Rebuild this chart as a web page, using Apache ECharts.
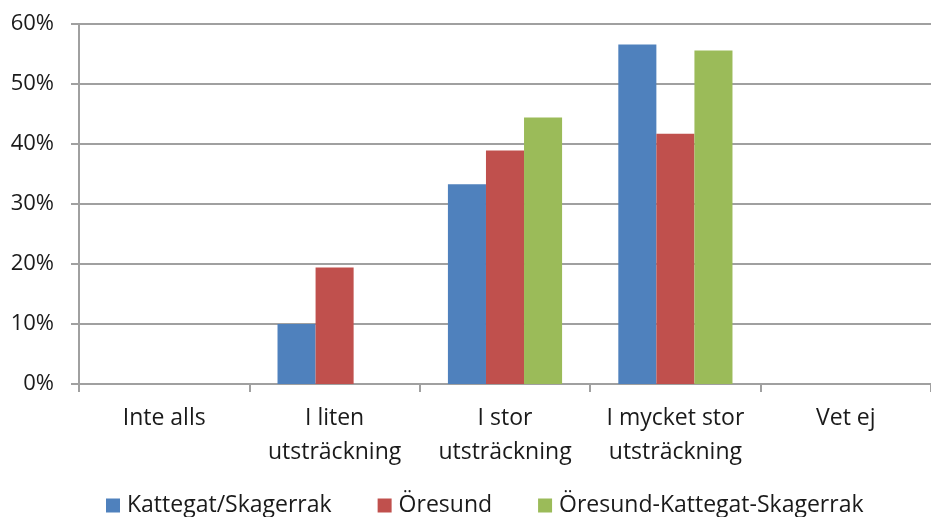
<!DOCTYPE html>
<html>
<head>
<meta charset="utf-8">
<script src="https://cdn.jsdelivr.net/npm/echarts@6/dist/echarts.min.js"></script>
<style>
  html, body { margin: 0; padding: 0; background: #fff; }
  #chart { width: 931px; height: 517px; }
</style>
</head>
<body>
<div id="chart"></div>
<script>
const categories = ['Inte alls', 'I liten\nutsträckning', 'I stor\nutsträckning', 'I mycket stor\nutsträckning', 'Vet ej'];
const seriesNames = ['Kattegat/Skagerrak', 'Öresund', 'Öresund-Kattegat-Skagerrak'];
const kattegat = [0, 10.0, 33.3, 56.6, 0];
const oresund = [0, 19.4, 38.9, 41.7, 0];
const oresundKattegat = [0, 0, 44.4, 55.6, 0];
const colors = ['#4F81BD', '#C0504D', '#9BBB59'];

const FONT = '"Open Sans", sans-serif';
const chart = echarts.init(document.getElementById('chart'));

const option = {
  animation: false,
  backgroundColor: '#fff',
  color: colors,
  textStyle: { fontFamily: FONT },
  grid: { left: 79, right: -4, top: 24, bottom: 133 },
  legend: {
    bottom: -5,
    left: 101,
    itemWidth: 14,
    itemHeight: 14,
    itemGap: 46,
    icon: 'rect',
    textStyle: { fontSize: 23, color: '#1a1a1a', fontFamily: FONT, padding: [0, 0, 0, 2] },
    data: seriesNames
  },
  xAxis: {
    type: 'category',
    data: categories,
    axisLine: { lineStyle: { color: '#a0a0a0', width: 2 } },
    axisTick: { show: true, length: 8, interval: 0, lineStyle: { color: '#a0a0a0', width: 2 } },
    axisLabel: { fontSize: 23, color: '#1a1a1a', lineHeight: 34, margin: 17, interval: 0, fontFamily: FONT }
  },
  yAxis: {
    type: 'value',
    min: 0,
    max: 60,
    interval: 10,
    axisLine: { show: true, lineStyle: { color: '#a0a0a0', width: 2 } },
    axisTick: { show: true, length: 8, lineStyle: { color: '#a0a0a0', width: 2 } },
    splitLine: { lineStyle: { color: '#a0a0a0', width: 2 } },
    axisLabel: { fontSize: 22, color: '#1a1a1a', margin: 25, formatter: '{value}%', fontFamily: FONT }
  },
  series: [
    { name: seriesNames[0], type: 'bar', data: kattegat, barGap: '0%', barCategoryGap: '33%' },
    { name: seriesNames[1], type: 'bar', data: oresund, barGap: '0%', barCategoryGap: '33%' },
    { name: seriesNames[2], type: 'bar', data: oresundKattegat, barGap: '0%', barCategoryGap: '33%' }
  ]
};

chart.setOption(option);
</script>
</body>
</html>
